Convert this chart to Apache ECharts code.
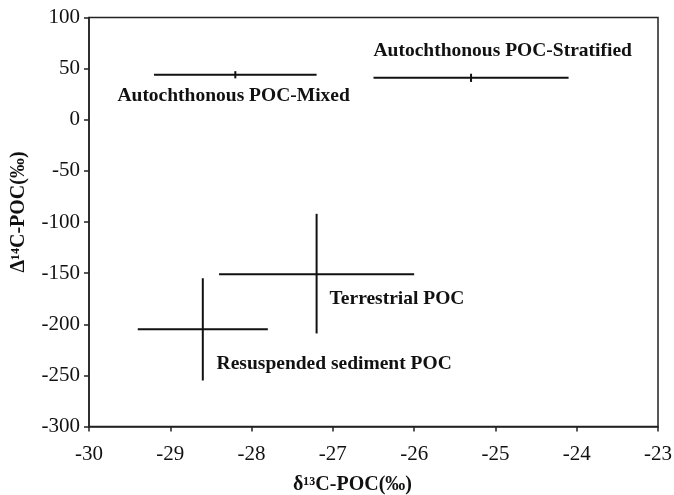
<!DOCTYPE html>
<html>
<head>
<meta charset="utf-8">
<script src="https://cdn.jsdelivr.net/npm/echarts@6/dist/echarts.min.js"></script>
<style>
html,body{margin:0;padding:0;background:#fff;}
#chart{width:674px;height:495px;}
</style>
</head>
<body>
<div id="chart"></div>
<script>
// Source groups: centre and ranges (δ13C, Δ14C)
var groupNames = ['Autochthonous POC-Mixed', 'Autochthonous POC-Stratified', 'Terrestrial POC', 'Resuspended sediment POC'];
var d13cCenter = [-28.2, -25.3, -27.2, -28.6];
var d13cLow    = [-29.2, -26.5, -28.4, -29.4];
var d13cHigh   = [-27.2, -24.1, -26.0, -27.8];
var d14cCenter = [44, 41, -151, -205];
var d14cLow    = [40.5, 37, -209, -255];
var d14cHigh   = [47.5, 45, -92, -155];
// label anchors (data coords, left edge / vertical middle)
var labelX = [-29.65, -26.5, -27.04, -28.43];
var labelY = [23, 67, -175, -239];

var xTicks = [-30, -29, -28, -27, -26, -25, -24, -23];
var yTicks = [-300, -250, -200, -150, -100, -50, 0, 50, 100];

var FONT = '"Liberation Serif", "Times New Roman", serif';
var INK = '#111';
var AXIS = '#222';

var barData = groupNames.map(function (n, i) {
  return [d13cCenter[i], d14cCenter[i], d13cLow[i], d13cHigh[i], d14cLow[i], d14cHigh[i]];
});
var labelData = groupNames.map(function (n, i) {
  return { value: [labelX[i], labelY[i]], name: n };
});

var chart = echarts.init(document.getElementById('chart'));
chart.setOption({
  animation: false,
  backgroundColor: '#fff',
  grid: {
    left: 89, top: 17.5, right: 16, bottom: 68.5,
    outerBoundsMode: 'none', containLabel: false,
    show: true, borderColor: AXIS, borderWidth: 1.5, backgroundColor: 'transparent'
  },
  xAxis: {
    type: 'value', min: xTicks[0], max: xTicks[xTicks.length - 1], interval: 1,
    axisLine: { show: true, onZero: false, lineStyle: { color: AXIS, width: 1.5 } },
    axisTick: { show: true, inside: false, length: 5, lineStyle: { color: AXIS, width: 1.5 } },
    splitLine: { show: false },
    axisLabel: { color: INK, fontFamily: FONT, fontSize: 21, margin: 17 },
    name: 'δ¹³C-POC(‰)', nameLocation: 'middle', nameGap: 48,
    nameTextStyle: { color: INK, fontFamily: FONT, fontSize: 20, fontWeight: 'bold', padding: [0, 42, 0, 0] }
  },
  yAxis: {
    type: 'value', min: yTicks[0], max: yTicks[yTicks.length - 1], interval: 50,
    axisLine: { show: true, onZero: false, lineStyle: { color: AXIS, width: 1.5 } },
    axisTick: { show: true, inside: false, length: 5, lineStyle: { color: AXIS, width: 1.5 } },
    splitLine: { show: false },
    axisLabel: { color: INK, fontFamily: FONT, fontSize: 21, margin: 9 },
    name: 'Δ¹⁴C-POC(‰)', nameLocation: 'middle', nameGap: 60, nameRotate: 90,
    nameTextStyle: { color: INK, fontFamily: FONT, fontSize: 20, fontWeight: 'bold', padding: [0, 0, 0, 20] }
  },
  series: [
    {
      type: 'custom',
      data: barData,
      encode: { x: [0, 2, 3], y: [1, 4, 5] },
      renderItem: function (params, api) {
        var cx = api.value(0), cy = api.value(1);
        var p0 = api.coord([api.value(2), cy]);
        var p1 = api.coord([api.value(3), cy]);
        var q0 = api.coord([cx, api.value(4)]);
        var q1 = api.coord([cx, api.value(5)]);
        var st = { stroke: INK, lineWidth: 2 };
        return {
          type: 'group',
          children: [
            { type: 'line', shape: { x1: p0[0], y1: p0[1], x2: p1[0], y2: p1[1] }, style: st },
            { type: 'line', shape: { x1: q0[0], y1: q0[1], x2: q1[0], y2: q1[1] }, style: st }
          ]
        };
      },
      z: 3
    },
    {
      type: 'scatter',
      data: labelData,
      symbolSize: 0,
      silent: true,
      itemStyle: { opacity: 1 },
      label: {
        show: true, position: 'right', distance: 0, opacity: 1,
        formatter: function (p) { return p.name; },
        color: INK, fontFamily: FONT, fontSize: 19.5, fontWeight: 'bold'
      },
      z: 4
    }
  ]
});
</script>
</body>
</html>
